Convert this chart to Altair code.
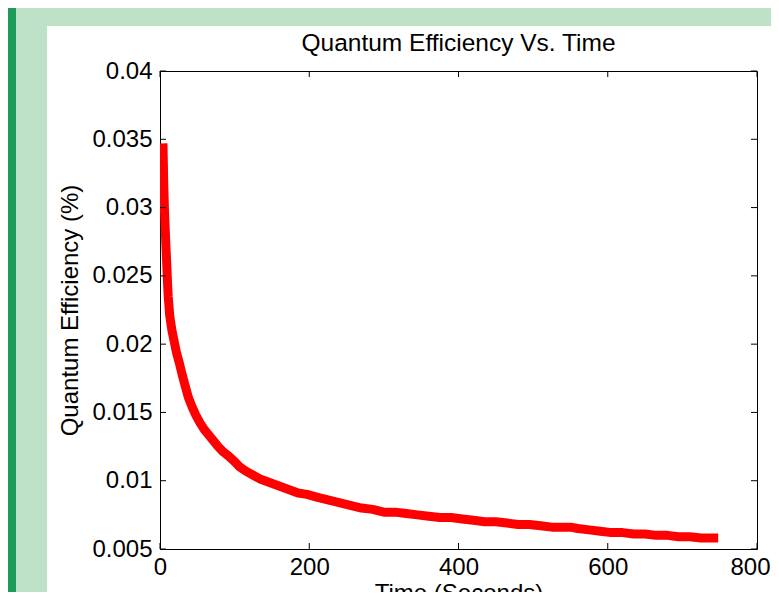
import altair as alt
import pandas as pd

# ---- data ----
times = [4, 5, 6, 7, 8, 9, 10, 11, 13, 16, 19, 22, 26, 30, 34, 38, 43, 48, 54, 60,
         66, 72, 78, 85, 92, 100, 107, 115, 125, 135, 145, 155, 165, 175, 185, 197, 210, 225, 240, 255,
         270, 285, 300, 315, 330, 345, 360, 375, 390, 405, 420, 435, 450, 465, 480, 495, 510, 525, 540, 550,
         560, 575, 590, 605, 620, 635, 650, 665, 680, 695, 710, 725, 740, 748]
qe = [0.0347, 0.0318, 0.0298, 0.0284, 0.0271, 0.0259, 0.0246, 0.0235, 0.0221, 0.0210,
      0.0202, 0.0194, 0.0186, 0.0177, 0.0169, 0.0161, 0.0154, 0.0148, 0.0142, 0.0137,
      0.0133, 0.0129, 0.0125, 0.0121, 0.0118, 0.0114, 0.0110, 0.0107, 0.0104, 0.0101,
      0.0099, 0.0097, 0.0095, 0.0093, 0.0091, 0.0090, 0.0088, 0.0086, 0.0084, 0.0082,
      0.0080, 0.0079, 0.0077, 0.0077, 0.0076, 0.0075, 0.0074, 0.0073, 0.0073, 0.0072,
      0.0071, 0.0070, 0.0070, 0.0069, 0.0068, 0.0068, 0.0067, 0.0066, 0.0066, 0.0066,
      0.0065, 0.0064, 0.0063, 0.0062, 0.0062, 0.0061, 0.0061, 0.0060, 0.0060, 0.0059,
      0.0059, 0.0058, 0.0058, 0.0058]
x_ticks = [0, 200, 400, 600, 800]
y_ticks = [0.005, 0.01, 0.015, 0.02, 0.025, 0.03, 0.035, 0.04]

title_text = "Quantum Efficiency Vs. Time"
x_title = "Time (Seconds)"
y_title = "Quantum Efficiency (%)"

W, H = 597, 478
PAD = {"left": 152, "top": 63, "right": 14, "bottom": 43}
FONT = "Liberation Sans"

df = pd.DataFrame({"t": times, "v": qe})
dx = pd.DataFrame({"t": x_ticks})
dy = pd.DataFrame({"v": y_ticks})
one = pd.DataFrame({"a": [0]})

xscale = alt.Scale(domain=[0, 800], nice=False, zero=False)
yscale = alt.Scale(domain=[0.005, 0.04], nice=False, zero=False)

xaxis = alt.Axis(values=x_ticks, ticks=False, domain=False, grid=False,
                 labelFont=FONT, labelFontSize=24, labelColor="black", labelPadding=6,
                 labelAlign={"condition": {"test": "datum.value == 800", "value": "right"}, "value": "center"},
                 labelOffset={"condition": {"test": "datum.value == 800", "value": 13}, "value": 0},
                 title=x_title, titleFont=FONT, titleFontSize=24, titleFontWeight="normal",
                 titleColor="black", titlePadding=2, zindex=1, labelFlush=False)
yaxis = alt.Axis(values=y_ticks, format="~g", ticks=False, domain=False, grid=False,
                 labelFont=FONT, labelFontSize=24, labelColor="black", labelPadding=8,
                 title=y_title, titleFont=FONT, titleFontSize=24, titleFontWeight="normal",
                 titleColor="black", titlePadding=9, zindex=1, labelFlush=False)

# decorative frame (page background panels)
left_green = alt.Chart(one).mark_rect(color="#bde2c8").encode(
    x=alt.value(-PAD["left"]), x2=alt.value(-113), y=alt.value(-PAD["top"]), y2=alt.value(H + PAD["bottom"]))
top_green = alt.Chart(one).mark_rect(color="#bde2c8").encode(
    x=alt.value(-PAD["left"]), x2=alt.value(W + PAD["right"]), y=alt.value(-PAD["top"]), y2=alt.value(-45))
dark_strip = alt.Chart(one).mark_rect(color="#1f9b59").encode(
    x=alt.value(-PAD["left"]), x2=alt.value(-144), y=alt.value(-PAD["top"]), y2=alt.value(H + PAD["bottom"]))

title_mark = alt.Chart(one).mark_text(font=FONT, fontSize=24.5, color="black", align="center",
                                      baseline="alphabetic").encode(
    x=alt.value(W / 2), y=alt.value(-20), text=alt.value(title_text))

line = alt.Chart(df).mark_line(color="#ff0000", strokeWidth=9, clip=True, strokeJoin="round").encode(
    x=alt.X("t:Q", scale=xscale, axis=xaxis),
    y=alt.Y("v:Q", scale=yscale, axis=yaxis),
)

tick_bottom = alt.Chart(dx).mark_rule(color="black", strokeWidth=1).encode(
    x=alt.X("t:Q", scale=xscale, axis=xaxis), y=alt.value(H), y2=alt.value(H - 6))
tick_top = alt.Chart(dx).mark_rule(color="black", strokeWidth=1).encode(
    x=alt.X("t:Q", scale=xscale, axis=xaxis), y=alt.value(0), y2=alt.value(6))
tick_left = alt.Chart(dy).mark_rule(color="black", strokeWidth=1).encode(
    y=alt.Y("v:Q", scale=yscale, axis=yaxis), x=alt.value(0), x2=alt.value(6))
tick_right = alt.Chart(dy).mark_rule(color="black", strokeWidth=1).encode(
    y=alt.Y("v:Q", scale=yscale, axis=yaxis), x=alt.value(W), x2=alt.value(W - 6))

chart = alt.layer(
    left_green, top_green, dark_strip, title_mark, line, tick_bottom, tick_top, tick_left, tick_right
).properties(
    width=W, height=H,
    autosize=alt.AutoSizeParams(type="none"),
    padding=PAD,
    background="white",
).configure_view(stroke="black", strokeWidth=1)

chart.save("out.html", embed_options={"renderer": "svg", "actions": False})
